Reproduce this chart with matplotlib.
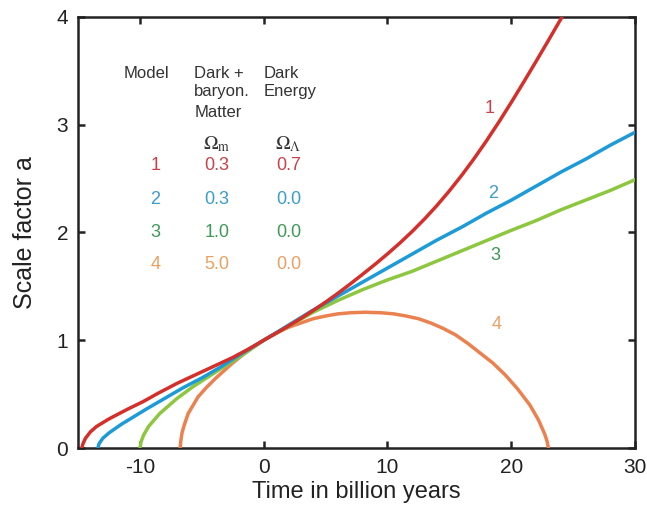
import matplotlib
matplotlib.use("Agg")
import matplotlib.pyplot as plt

plt.rcParams['font.family'] = ['Liberation Sans', 'DejaVu Sans']
plt.rcParams['mathtext.fontset'] = 'stix'
plt.rcParams['axes.unicode_minus'] = False

# model 1: Omega_m = 0.3, Omega_L = 0.7
t1 = [-14.7, -14.6, -14.4, -14.0, -13.5, -12.5, -11.0, -9.75, -8.5, -7.0, -5.5, -4.0,
      -2.5, -1.2, 0.0, 1.0, 2.0, 3.0, 4.0, 5.0, 6.0, 7.0, 8.0, 9.0, 10.0, 11.0, 12.0, 13.0,
      14.0, 15.0, 16.0, 17.0, 18.0, 19.0, 20.0, 21.0, 22.0, 23.0, 24.0, 24.2]
a1 = [0.0, 0.04, 0.09, 0.15, 0.20, 0.27, 0.36, 0.43, 0.51, 0.60, 0.68, 0.76,
      0.84, 0.92, 1.0, 1.065, 1.132, 1.202, 1.276, 1.354, 1.436, 1.523, 1.613, 1.705, 1.801,
      1.902, 2.01, 2.126, 2.251, 2.386, 2.531, 2.686, 2.851, 3.025, 3.207, 3.395, 3.587, 3.782,
      3.98, 4.02]

# model 2: Omega_m = 0.3, Omega_L = 0.0
t2 = [-13.4, -13.3, -13.0, -12.5, -11.5, -10.5, -9.5, -8.0, -6.5, -5.0, -3.5, -2.0, -1.0,
      0.0, 2.0, 4.0, 6.0, 8.0, 10.0, 12.0, 14.0, 16.0, 18.0, 20.0, 22.0, 24.0, 26.0, 28.0, 30.0]
a2 = [0.0, 0.04, 0.09, 0.14, 0.22, 0.29, 0.36, 0.46, 0.56, 0.65, 0.75, 0.86, 0.93,
      1.0, 1.14, 1.28, 1.41, 1.54, 1.67, 1.80, 1.93, 2.05, 2.18, 2.30, 2.43, 2.56, 2.68, 2.81, 2.93]

# model 3: Omega_m = 1.0, Omega_L = 0.0
t3 = [-10.0, -9.9, -9.7, -9.3, -8.4, -7.0, -5.7, -4.35, -3.0, -1.5, 0.0, 2.0, 4.0, 6.0,
      8.0, 10.0, 12.0, 14.0, 16.0, 18.0, 20.0, 22.0, 24.0, 26.0, 28.0, 30.0]
a3 = [0.0, 0.06, 0.12, 0.20, 0.32, 0.46, 0.57, 0.67, 0.77, 0.88, 1.0, 1.13, 1.26, 1.37,
      1.47, 1.56, 1.64, 1.735, 1.83, 1.925, 2.02, 2.11, 2.21, 2.30, 2.39, 2.49]

# model 4: Omega_m = 5.0, Omega_L = 0.0
t4 = [-6.75, -6.7, -6.6, -6.4, -6.1, -5.3, -4.6, -3.9, -2.6, -1.3, 0.0, 1.0, 2.0, 3.0, 4.0,
      5.0, 6.0, 7.0, 8.2, 9.5, 10.5, 11.5, 12.5, 13.5, 14.5, 15.5, 16.5, 17.5, 18.5, 19.5,
      20.5, 21.5, 22.2, 22.7, 22.9, 23.0]
a4 = [0.0, 0.06, 0.14, 0.22, 0.32, 0.475, 0.565, 0.645, 0.78, 0.90, 1.0, 1.065, 1.12, 1.16, 1.20,
      1.225, 1.245, 1.255, 1.26, 1.255, 1.245, 1.225, 1.20, 1.16, 1.11, 1.05, 0.97, 0.88, 0.79,
      0.68, 0.55, 0.40, 0.26, 0.13, 0.06, 0.0]

models = ['1', '2', '3', '4']
omega_m = ['0.3', '0.3', '1.0', '5.0']
omega_l = ['0.7', '0.0', '0.0', '0.0']

line_cols = ['#d42f2a', '#1d9ad8', '#8dc63f', '#ec8150']
text_cols = ['#c8414b', '#3a9ec9', '#3c9a55', '#e9a060']

fig = plt.figure(figsize=(6.47, 5.13), dpi=100)
ax = fig.add_axes([0.1206, 0.1267, 0.8609, 0.8402])

curves = [(t1, a1), (t2, a2), (t3, a3), (t4, a4)]
for i in [3, 2, 1, 0]:
    ax.plot(curves[i][0], curves[i][1], color=line_cols[i], lw=2.5,
            solid_joinstyle='round', zorder=3 + (3 - i))

ax.set_xlim(-15, 30)
ax.set_ylim(0, 4)
ax.set_xticks([-10, 0, 10, 20, 30])
ax.set_yticks([0, 1, 2, 3, 4])
ax.tick_params(direction='in', top=True, right=True, length=5, width=1.8,
               labelsize=15, pad=7, colors='#222222')
for s in ax.spines.values():
    s.set_linewidth(1.8)
    s.set_color('#222222')

ax.set_xlabel('Time in billion years', fontsize=17, color='#222222', labelpad=3)
ax.set_ylabel('Scale factor a', fontsize=18, color='#222222', labelpad=14)

# table of model parameters
fs = 12
ax.text(-11.35, 3.48, 'Model', fontsize=fs, color='#333333', va='center')
ax.text(-5.6, 3.48, 'Dark +', fontsize=fs, color='#333333', va='center')
ax.text(-5.6, 3.305, 'baryon.', fontsize=fs, color='#333333', va='center')
ax.text(-5.6, 3.11, 'Matter', fontsize=fs, color='#333333', va='center')
ax.text(0.0, 3.48, 'Dark', fontsize=fs, color='#333333', va='center')
ax.text(0.0, 3.305, 'Energy', fontsize=fs, color='#333333', va='center')
ax.text(-3.8, 2.82, r'$\Omega_\mathrm{m}$', fontsize=14, color='#333333', ha='center', va='center')
ax.text(2.0, 2.82, r'$\Omega_\Lambda$', fontsize=14, color='#333333', ha='center', va='center')

row_y = [2.62, 2.31, 2.0, 1.70]
for i in range(4):
    ax.text(-8.75, row_y[i], models[i], fontsize=13, color=text_cols[i], ha='center', va='center')
    ax.text(-3.8, row_y[i], omega_m[i], fontsize=13, color=text_cols[i], ha='center', va='center')
    ax.text(2.0, row_y[i], omega_l[i], fontsize=13, color=text_cols[i], ha='center', va='center')

# curve labels
lab_x = [18.25, 18.5, 18.7, 18.8]
lab_y = [3.15, 2.36, 1.79, 1.15]
for i in range(4):
    ax.text(lab_x[i], lab_y[i], models[i], fontsize=13, color=text_cols[i], ha='center', va='center')

fig.savefig('out.png', dpi=100)
